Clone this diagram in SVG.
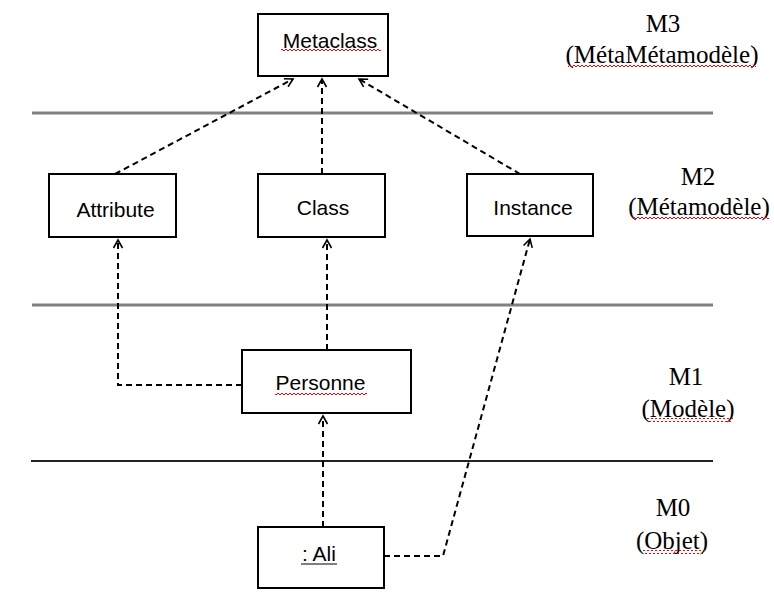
<svg xmlns="http://www.w3.org/2000/svg" width="774" height="608" viewBox="0 0 774 608">
<style>
.box{fill:#fff;stroke:#000;stroke-width:2}
.lbl{font-family:"Liberation Sans",Arial,sans-serif;font-size:21px;fill:#000;text-anchor:middle}
.lvl{font-family:"Liberation Serif","Times New Roman",serif;font-size:25px;fill:#000;text-anchor:middle}
.conn{fill:none;stroke:#000;stroke-width:2;stroke-dasharray:6 4}
</style>
<defs>
<marker id="open" markerUnits="userSpaceOnUse" markerWidth="12" markerHeight="12" refX="10" refY="6" orient="auto">
<path d="M2,1.5 L10,6 L2,10.5" fill="none" stroke="#000" stroke-width="1.6"/>
</marker>
<pattern id="wave" width="4" height="4" patternUnits="userSpaceOnUse">
<path d="M0,3 L2,1 L4,3" fill="none" stroke="#e00" stroke-width="1"/>
</pattern>
</defs>
<rect width="774" height="608" fill="#fff"/>
<g id="levels">
<line x1="32" y1="113" x2="713" y2="113" stroke="#808080" stroke-width="3"/>
<line x1="32" y1="305" x2="713" y2="305" stroke="#808080" stroke-width="3"/>
<line x1="31" y1="461" x2="713" y2="461" stroke="#222" stroke-width="2"/>
</g>
<g id="connectors">
<path class="conn" d="M115,174 L293,79" marker-end="url(#open)"/>
<path class="conn" d="M322,174 L322,79" marker-end="url(#open)"/>
<path class="conn" d="M520,174 L359,79" marker-end="url(#open)"/>
<path class="conn" d="M242,385 L118,385 L118,240" marker-end="url(#open)"/>
<path class="conn" d="M327,350 L327,240" marker-end="url(#open)"/>
<path class="conn" d="M323,527 L323,416" marker-end="url(#open)"/>
<path class="conn" d="M384,556 L443,556 L530,239" marker-end="url(#open)"/>
</g>
<g id="metaclass">
<rect class="box" x="258" y="14" width="130" height="62"/>
<text class="lbl" x="330" y="48">Metaclass</text>
<rect x="281" y="49" width="100" height="4" fill="url(#wave)"/>
</g>
<g id="attribute">
<rect class="box" x="49" y="174" width="127" height="63"/>
<text class="lbl" x="115.5" y="217">Attribute</text>
</g>
<g id="class">
<rect class="box" x="258" y="174" width="127" height="63"/>
<text class="lbl" x="323" y="215">Class</text>
</g>
<g id="instance">
<rect class="box" x="467" y="174" width="126" height="62"/>
<text class="lbl" x="533" y="215">Instance</text>
</g>
<g id="personne">
<rect class="box" x="242" y="350" width="169" height="63"/>
<text class="lbl" x="320.5" y="390">Personne</text>
<rect x="275" y="392" width="92" height="4" fill="url(#wave)"/>
</g>
<g id="ali">
<rect class="box" x="258" y="527" width="126" height="61"/>
<text class="lbl" x="319" y="561">: Ali</text>
<line x1="301" y1="564" x2="337" y2="564" stroke="#000" stroke-width="1.2"/>
</g>
<g id="m3">
<text class="lvl" x="663" y="32">M3</text>
<text class="lvl" x="662" y="63">(MétaMétamodèle)</text>
<rect x="568" y="64" width="188" height="4" fill="url(#wave)"/>
</g>
<g id="m2">
<text class="lvl" x="698" y="185">M2</text>
<text class="lvl" x="699" y="215">(Métamodèle)</text>
<rect x="633" y="216" width="136" height="4" fill="url(#wave)"/>
</g>
<g id="m1">
<text class="lvl" x="686" y="385">M1</text>
<text class="lvl" x="688" y="417">(Modèle)</text>
<rect x="647" y="418" width="86" height="4" fill="url(#wave)"/>
</g>
<g id="m0">
<text class="lvl" x="673" y="516">M0</text>
<text class="lvl" x="672" y="549">(Objet)</text>
<rect x="643" y="550" width="62" height="4" fill="url(#wave)"/>
</g>
</svg>
